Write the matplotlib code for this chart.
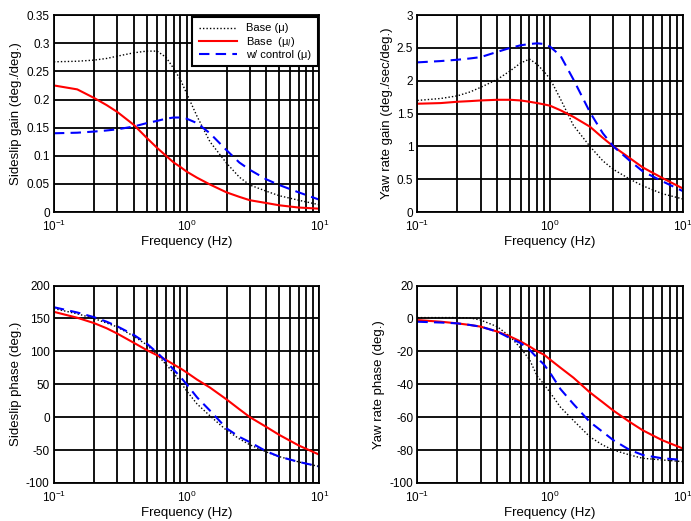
import matplotlib
matplotlib.use("Agg")
import matplotlib.pyplot as plt
from matplotlib.ticker import FormatStrFormatter, LogLocator

plt.rcParams['font.family'] = ['Liberation Sans', 'DejaVu Sans']

# frequencies (Hz) at which values were read
freq = [0.1, 0.15, 0.2, 0.25, 0.3, 0.4, 0.5, 0.6, 0.7, 0.8, 0.9, 1.0, 1.2, 1.5, 2.0, 2.5, 3.0, 4.0, 5.0, 7.0, 10.0]

# sideslip gain (deg./deg.)
beta_gain_base = [0.267, 0.268, 0.270, 0.273, 0.277, 0.283, 0.286, 0.286, 0.275, 0.255, 0.235, 0.211, 0.170, 0.125, 0.087, 0.062, 0.048, 0.037, 0.029, 0.021, 0.013]
beta_gain_low = [0.225, 0.218, 0.203, 0.190, 0.178, 0.155, 0.132, 0.114, 0.100, 0.088, 0.080, 0.072, 0.061, 0.049, 0.035, 0.027, 0.021, 0.016, 0.012, 0.008, 0.006]
beta_gain_ctrl = [0.140, 0.141, 0.143, 0.145, 0.147, 0.152, 0.158, 0.162, 0.166, 0.168, 0.168, 0.166, 0.158, 0.140, 0.110, 0.088, 0.075, 0.058, 0.048, 0.035, 0.022]

# yaw rate gain (deg./sec/deg.)
r_gain_base = [1.70, 1.73, 1.77, 1.83, 1.90, 2.02, 2.15, 2.27, 2.33, 2.25, 2.14, 2.03, 1.72, 1.32, 1.00, 0.78, 0.65, 0.50, 0.40, 0.28, 0.20]
r_gain_low = [1.65, 1.66, 1.68, 1.69, 1.70, 1.71, 1.71, 1.70, 1.68, 1.66, 1.64, 1.62, 1.55, 1.45, 1.30, 1.13, 1.00, 0.82, 0.68, 0.52, 0.36]
r_gain_ctrl = [2.28, 2.30, 2.32, 2.34, 2.36, 2.44, 2.50, 2.54, 2.56, 2.57, 2.56, 2.52, 2.38, 2.02, 1.52, 1.20, 1.00, 0.78, 0.62, 0.47, 0.32]

# sideslip phase (deg.)
beta_ph_base = [165, 157, 150, 143, 137, 123, 110, 95, 80, 67, 53, 40, 20, 2, -20, -33, -42, -53, -60, -68, -75]
beta_ph_low = [160, 151, 143, 135, 127, 113, 102, 94, 87, 80, 74, 68, 57, 45, 27, 12, 0, -15, -27, -43, -57]
beta_ph_ctrl = [167, 159, 152, 145, 138, 125, 112, 98, 85, 72, 61, 50, 30, 10, -17, -30, -38, -52, -60, -68, -75]

# yaw rate phase (deg.)
r_ph_base = [0.5, 0.5, 0.5, 0.3, -1, -5, -11, -18, -25, -35, -40, -45, -54, -62, -72, -77, -80, -83, -85, -86, -87]
r_ph_low = [-1, -2, -3, -4, -5, -8, -11, -14, -17, -20, -22, -25, -30, -36, -45, -51, -56, -63, -68, -74, -79]
r_ph_ctrl = [-2, -2.5, -3, -4, -5, -8, -12, -15, -19, -24, -28, -33, -43, -52, -63, -69, -74, -80, -83, -85, -86]

panels = [
    (beta_gain_base, beta_gain_low, beta_gain_ctrl, "Sideslip gain (deg./deg.)", (0, 0.35), 0.05),
    (r_gain_base, r_gain_low, r_gain_ctrl, "Yaw rate gain (deg./sec/deg.)", (0, 3), 0.5),
    (beta_ph_base, beta_ph_low, beta_ph_ctrl, "Sideslip phase (deg.)", (-100, 200), 50),
    (r_ph_base, r_ph_low, r_ph_ctrl, "Yaw rate phase (deg.)", (-100, 20), 20),
]

positions = [
    [0.078, 0.593, 0.384, 0.378],
    [0.604, 0.593, 0.384, 0.378],
    [0.078, 0.073, 0.384, 0.379],
    [0.604, 0.073, 0.384, 0.379],
]

fig = plt.figure(figsize=(6.91, 5.21), dpi=100)

for (base, low, ctrl, ylabel, ylim, step), pos in zip(panels, positions):
    ax = fig.add_axes(pos)
    ax.plot(freq, base, color='black', linestyle=(0, (1, 1.5)), linewidth=1.0, label='Base (μ)')
    ax.plot(freq, low, color='red', linestyle='-', linewidth=1.5, label='Base  (μ$_l$)')
    ax.plot(freq, ctrl, color='blue', linestyle=(0, (5, 3)), linewidth=1.5, label='w/ control (μ)')
    ax.set_xscale('log')
    ax.set_xlim(0.1, 10)
    ax.set_ylim(*ylim)
    n = round((ylim[1] - ylim[0]) / step)
    ax.set_yticks([ylim[0] + i * step for i in range(n + 1)])
    ax.yaxis.set_major_formatter(FormatStrFormatter('%g'))
    ax.xaxis.set_minor_locator(LogLocator(base=10, subs=range(2, 10)))
    ax.grid(True, which='both', color='black', linewidth=1.3)
    ax.set_axisbelow(True)
    ax.tick_params(which='both', direction='in', labelsize=8.5, length=0)
    ax.tick_params(axis='x', pad=5)
    ax.tick_params(axis='y', pad=3)
    for spine in ax.spines.values():
        spine.set_linewidth(1.3)
    ax.set_xlabel("Frequency (Hz)", fontsize=9.5, labelpad=1)
    ax.set_ylabel(ylabel, fontsize=9.5, labelpad=3)
    if ylabel.startswith("Sideslip gain"):
        leg = ax.legend(loc='upper right', fontsize=8, frameon=True, fancybox=False,
                        edgecolor='black', framealpha=1.0, handlelength=3.4,
                        borderaxespad=0.15, labelspacing=0.1, borderpad=0.6)
        leg.get_frame().set_linewidth(1.5)

fig.savefig("out.png", dpi=100)
